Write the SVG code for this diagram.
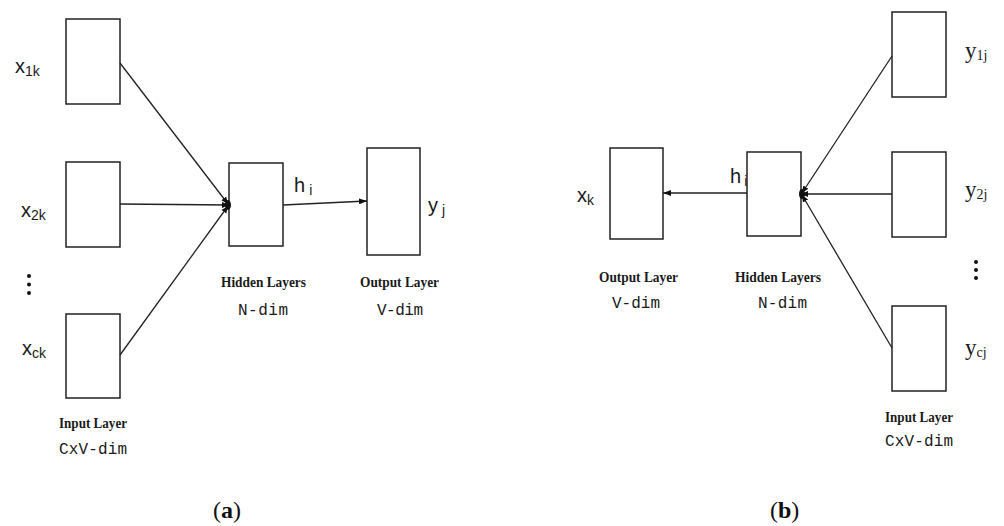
<svg xmlns="http://www.w3.org/2000/svg" width="1004" height="526" viewBox="0 0 1004 526">
<style>
.box{fill:#fff;stroke:#222;stroke-width:1.5}
.ln{stroke:#222;stroke-width:1.3;fill:none}
.sans{font-family:"Liberation Sans",Arial,sans-serif;fill:#1a1a1a;font-size:20px}
.sub{font-size:14px}
.serif{font-family:"Liberation Serif","Times New Roman",serif;fill:#1a1a1a}
.lay{font-family:"Liberation Serif","Times New Roman",serif;font-size:15px;font-weight:bold;fill:#1a1a1a}
.dim{font-family:"Liberation Mono","Courier New",monospace;font-size:16px;fill:#1a1a1a}
.cap{font-family:"Liberation Serif","Times New Roman",serif;font-size:24px;fill:#111}
.blob{fill:#111}
</style>
<defs>
<marker id="arr" markerUnits="userSpaceOnUse" markerWidth="8" markerHeight="6" refX="8" refY="3" orient="auto">
<path d="M0,0 L8,3 L0,6 z" fill="#111"/>
</marker>
<marker id="blob" markerUnits="userSpaceOnUse" markerWidth="8" markerHeight="8" refX="7" refY="4" orient="auto">
<path d="M0,1 L7,4 L0,7 z" fill="#111"/>
</marker>
</defs>
<rect width="1004" height="526" fill="#fff"/>

<g id="a-input-1">
<rect class="box" x="66" y="19" width="54" height="85"/>
<text class="sans" x="15" y="73">x<tspan class="sub" dy="3">1k</tspan></text>
</g>
<g id="a-input-2">
<rect class="box" x="66" y="162" width="54" height="85"/>
<text class="sans" x="21" y="217">x<tspan class="sub" dy="3">2k</tspan></text>
</g>
<g id="a-dots">
<circle cx="29" cy="276" r="2" fill="#111"/>
<circle cx="29" cy="284.5" r="2" fill="#111"/>
<circle cx="29" cy="293" r="2" fill="#111"/>
</g>
<g id="a-input-c">
<rect class="box" x="66" y="314" width="54" height="84"/>
<text class="sans" x="22" y="355">x<tspan class="sub" dy="3">ck</tspan></text>
<text class="lay" x="59" y="428" textLength="68" lengthAdjust="spacingAndGlyphs">Input Layer</text>
<text class="dim" x="59" y="454" textLength="68" lengthAdjust="spacing">CxV-dim</text>
</g>
<g id="a-hidden">
<rect class="box" x="229" y="163" width="54" height="83"/>
<text class="sans" x="294" y="192">h<tspan class="sub" dy="3" dx="4">i</tspan></text>
<text class="lay" x="221" y="287" textLength="85" lengthAdjust="spacingAndGlyphs">Hidden Layers</text>
<text class="dim" x="238" y="315" textLength="50" lengthAdjust="spacing">N-dim</text>
</g>
<g id="a-output">
<rect class="box" x="367" y="148" width="53" height="107"/>
<text class="sans" x="428" y="212">y<tspan class="sub" dy="3" dx="4">j</tspan></text>
<text class="lay" x="360" y="287" textLength="79" lengthAdjust="spacingAndGlyphs">Output Layer</text>
<text class="dim" x="377" y="315" textLength="46" lengthAdjust="spacing">V-dim</text>
</g>
<text class="cap" x="213" y="518">(<tspan font-weight="bold">a</tspan>)</text>

<g id="b-output">
<rect class="box" x="610" y="148" width="53" height="91"/>
<text class="sans" x="577" y="202">x<tspan class="sub" dy="3">k</tspan></text>
<text class="lay" x="599" y="282" textLength="79" lengthAdjust="spacingAndGlyphs">Output Layer</text>
<text class="dim" x="612" y="308" textLength="48" lengthAdjust="spacing">V-dim</text>
</g>
<g id="b-hidden">
<text class="sans" x="730" y="183">h<tspan class="sub" dy="3" dx="3">i</tspan></text>
<rect class="box" x="747" y="152" width="54" height="84"/>
<text class="lay" x="735" y="282" textLength="86" lengthAdjust="spacingAndGlyphs">Hidden Layers</text>
<text class="dim" x="758" y="308" textLength="49" lengthAdjust="spacing">N-dim</text>
</g>
<g id="b-input-1">
<rect class="box" x="892" y="12" width="54" height="85"/>
<text class="serif" font-size="23" x="965" y="58">y<tspan font-size="14" dy="2">1j</tspan></text>
</g>
<g id="b-input-2">
<rect class="box" x="892" y="152" width="54" height="85"/>
<text class="serif" font-size="23" x="965" y="197">y<tspan font-size="14" dy="2">2j</tspan></text>
</g>
<g id="b-dots">
<circle cx="976" cy="262" r="2" fill="#111"/>
<circle cx="976" cy="270" r="2" fill="#111"/>
<circle cx="976" cy="278" r="2" fill="#111"/>
</g>
<g id="b-input-c">
<rect class="box" x="892" y="306" width="54" height="85"/>
<text class="serif" font-size="23" x="965" y="355">y<tspan font-size="14" dy="2">cj</tspan></text>
<text class="lay" x="885" y="422" textLength="68" lengthAdjust="spacingAndGlyphs">Input Layer</text>
<text class="dim" x="885" y="446" textLength="68" lengthAdjust="spacing">CxV-dim</text>
</g>
<text class="cap" x="770" y="518">(<tspan font-weight="bold">b</tspan>)</text>

<g id="connectors">
<line class="ln" x1="120" y1="63" x2="228" y2="204" marker-end="url(#blob)"/>
<line class="ln" x1="120" y1="204" x2="229" y2="205" marker-end="url(#blob)"/>
<line class="ln" x1="120" y1="355" x2="228" y2="206" marker-end="url(#blob)"/>
<ellipse class="blob" cx="228" cy="205" rx="3" ry="5"/>
<line class="ln" x1="283" y1="205" x2="367" y2="201" marker-end="url(#arr)"/>
<line class="ln" x1="892" y1="56" x2="802" y2="193" marker-end="url(#blob)"/>
<line class="ln" x1="892" y1="194" x2="801" y2="194" marker-end="url(#blob)"/>
<line class="ln" x1="892" y1="348" x2="802" y2="195" marker-end="url(#blob)"/>
<ellipse class="blob" cx="802" cy="194" rx="3" ry="5"/>
<line class="ln" x1="747" y1="193" x2="663" y2="193" marker-end="url(#arr)"/>
</g>
</svg>
